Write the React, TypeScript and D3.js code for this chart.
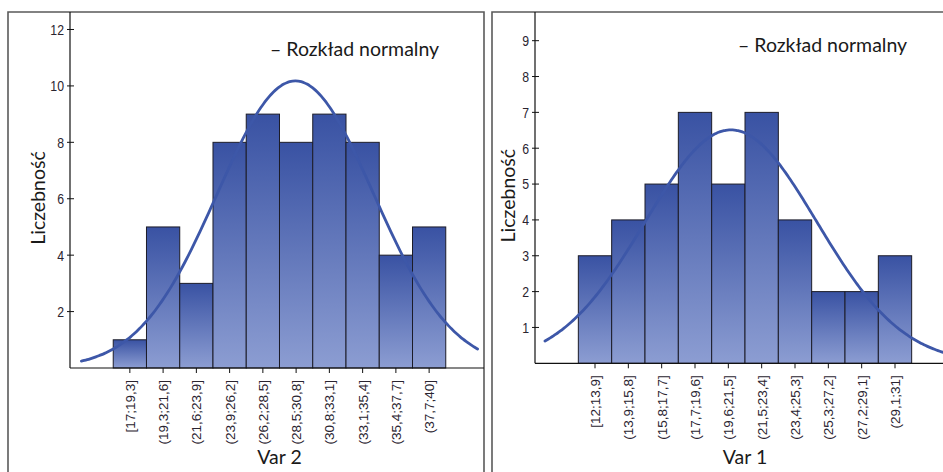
import React, { useRef, useEffect } from 'react';
import * as d3 from 'd3';

// Var 2 histogram (left panel)
const var2Labels = ['[17;19,3]', '(19,3;21,6]', '(21,6;23,9]', '(23,9;26,2]', '(26,2;28,5]', '(28,5;30,8]', '(30,8;33,1]', '(33,1;35,4]', '(35,4;37,7]', '(37,7;40]'];
const var2Edges = [17, 19.3, 21.6, 23.9, 26.2, 28.5, 30.8, 33.1, 35.4, 37.7, 40];
const var2Counts = [1, 5, 3, 8, 9, 8, 9, 8, 4, 5];
const var2Ticks = [2, 4, 6, 8, 10, 12];
const var2Normal = { mean: 29.6, sd: 5.41 };

// Var 1 histogram (right panel)
const var1Labels = ['[12;13,9]', '(13,9;15,8]', '(15,8;17,7]', '(17,7;19,6]', '(19,6;21,5]', '(21,5;23,4]', '(23,4;25,3]', '(25,3;27,2]', '(27,2;29,1]', '(29,1;31]'];
const var1Edges = [12, 13.9, 15.8, 17.7, 19.6, 21.5, 23.4, 25.3, 27.2, 29.1, 31];
const var1Counts = [3, 4, 5, 7, 5, 7, 4, 2, 2, 3];
const var1Ticks = [1, 2, 3, 4, 5, 6, 7, 8, 9];
const var1Normal = { mean: 20.7, sd: 4.89 };

const legendText = '– Rozkład normalny';
const yTitle = 'Liczebność';

const W = 943, H = 472;
const TITLE_FONT = 'Lato, "Open Sans", sans-serif';
const TICK_FONT = '"Liberation Sans", Arial, sans-serif';

interface PanelProps {
    id: string;
    labels: string[];
    edges: number[];
    counts: number[];
    ticks: number[];
    normal: { mean: number; sd: number };
    xTitle: string;
    frame: [number, number]; // left, right of frame
    plot: { left: number; right: number; top: number; bottom: number };
    yMax: number;
    yTitleX: number;
    legendX: number;
    legendY: number;
}

const Panel: React.FC<PanelProps> = (p) => {
    const gRef = useRef<SVGGElement | null>(null);

    useEffect(() => {
        if (!gRef.current) return;
        const g = d3.select(gRef.current);
        g.selectAll('*').remove();

        const lo = p.edges[0], hi = p.edges[p.edges.length - 1];
        const w = p.edges[1] - p.edges[0];

        const x = d3.scaleLinear()
            .domain([lo - 1.3 * w, hi + 1.15 * w])
            .range([p.plot.left, p.plot.right]);
        const y = d3.scaleLinear()
            .domain([0, p.yMax])
            .range([p.plot.bottom, p.plot.top]);

        const gradId = `grad-${p.id}`;
        const grad = g.append('defs').append('linearGradient')
            .attr('id', gradId)
            .attr('x1', 0).attr('y1', 0).attr('x2', 0).attr('y2', 1);
        grad.append('stop').attr('offset', '0%').attr('stop-color', '#3952a3');
        grad.append('stop').attr('offset', '100%').attr('stop-color', '#8c9dd2');

        const clipId = `clip-${p.id}`;
        g.append('clipPath').attr('id', clipId)
            .append('rect')
            .attr('x', p.plot.left).attr('y', p.plot.top)
            .attr('width', p.plot.right - p.plot.left)
            .attr('height', p.plot.bottom - p.plot.top);

        // frame
        g.append('path')
            .attr('d', `M${p.frame[0]},${H}V${p.plot.top}H${p.frame[1]}V${H}`)
            .attr('fill', 'none')
            .attr('stroke', '#5a5a5a')
            .attr('stroke-width', 1.6);

        // bars
        g.append('g').selectAll('rect')
            .data(p.counts)
            .join('rect')
            .attr('x', (_, i) => x(p.edges[i]))
            .attr('width', (_, i) => x(p.edges[i + 1]) - x(p.edges[i]))
            .attr('y', d => y(d))
            .attr('height', d => y(0) - y(d))
            .attr('fill', `url(#${gradId})`)
            .attr('stroke', '#1c1c28')
            .attr('stroke-width', 1);

        // normal curve
        const pdf = (v: number) => {
            const z = (v - p.normal.mean) / p.normal.sd;
            const n = d3.sum(p.counts);
            return (n * w) / (p.normal.sd * Math.sqrt(2 * Math.PI)) * Math.exp(-0.5 * z * z);
        };
        const xs = x.ticks(200).filter(v => v >= lo - w && v <= hi + w);
        g.append('path')
            .datum(xs)
            .attr('clip-path', `url(#${clipId})`)
            .attr('d', d3.line<number>().x(v => x(v)).y(v => y(pdf(v))).curve(d3.curveMonotoneX))
            .attr('fill', 'none')
            .attr('stroke', '#3d57a8')
            .attr('stroke-width', 2.8)
            .attr('stroke-linecap', 'round');

        // axes
        g.append('line')
            .attr('x1', p.plot.left).attr('x2', p.plot.left)
            .attr('y1', p.plot.top).attr('y2', p.plot.bottom)
            .attr('stroke', '#111').attr('stroke-width', 1.2);
        g.append('line')
            .attr('x1', p.plot.left).attr('x2', p.plot.right)
            .attr('y1', p.plot.bottom).attr('y2', p.plot.bottom)
            .attr('stroke', '#111').attr('stroke-width', 1.2);

        const yt = g.append('g').selectAll('g').data(p.ticks).join('g')
            .attr('transform', d => `translate(${p.plot.left},${y(d)})`);
        yt.append('line').attr('x1', -3).attr('x2', 4).attr('stroke', '#111');
        // condensed digits, like the original's narrow face
        yt.append('text')
            .attr('transform', 'translate(-6,0) scale(0.82,1)')
            .attr('dy', '0.36em')
            .attr('text-anchor', 'end')
            .style('font-family', TICK_FONT)
            .style('font-size', '15px')
            .style('fill', '#2a2430')
            .text(d => d);

        const centers = p.counts.map((_, i) => (p.edges[i] + p.edges[i + 1]) / 2);
        const xt = g.append('g').selectAll('g').data(centers).join('g')
            .attr('transform', d => `translate(${x(d)},${p.plot.bottom})`);
        xt.append('line').attr('y1', 0).attr('y2', 5).attr('stroke', '#111');
        xt.append('text')
            .attr('transform', 'translate(5,12) rotate(-90)')
            .attr('text-anchor', 'end')
            .style('font-family', TICK_FONT)
            .style('font-size', '13.5px')
            .style('fill', '#2a2430')
            .text((_, i) => p.labels[i]);

        // titles
        const mid = (x(lo) + x(hi)) / 2;
        g.append('text')
            .attr('x', mid).attr('y', 464)
            .attr('text-anchor', 'middle')
            .style('font-family', TITLE_FONT)
            .style('font-size', '19.5px')
            .style('fill', '#1a1a1a')
            .text(p.xTitle);
        g.append('text')
            .attr('transform', `translate(${p.yTitleX + 7},${(p.plot.top + p.plot.bottom) / 2 + 8}) rotate(-90)`)
            .attr('text-anchor', 'middle')
            .style('font-family', TITLE_FONT)
            .style('font-size', '19.5px')
            .style('fill', '#1a1a1a')
            .text(yTitle);
        g.append('text')
            .attr('x', p.legendX).attr('y', p.legendY)
            .style('font-family', TITLE_FONT)
            .style('font-size', '19.5px')
            .style('fill', '#1a1a1a')
            .text(legendText);
    }, [p]);

    return <g ref={gRef}></g>;
};

const App: React.FC = () => {
    return (
        <svg width={W} height={H} style={{ position: 'absolute', left: 0, top: 0, background: '#fff' }}>
            <Panel
                id="v2"
                labels={var2Labels}
                edges={var2Edges}
                counts={var2Counts}
                ticks={var2Ticks}
                normal={var2Normal}
                xTitle="Var 2"
                frame={[8, 484]}
                plot={{ left: 70, right: 484, top: 12, bottom: 368 }}
                yMax={12.62}
                yTitleX={38}
                legendX={270}
                legendY={56}
            />
            <Panel
                id="v1"
                labels={var1Labels}
                edges={var1Edges}
                counts={var1Counts}
                ticks={var1Ticks}
                normal={var1Normal}
                xTitle="Var 1"
                frame={[492, 960]}
                plot={{ left: 535, right: 950, top: 12, bottom: 363.3 }}
                yMax={9.8}
                yTitleX={508}
                legendX={738}
                legendY={52}
            />
        </svg>
    );
};

export default App;
